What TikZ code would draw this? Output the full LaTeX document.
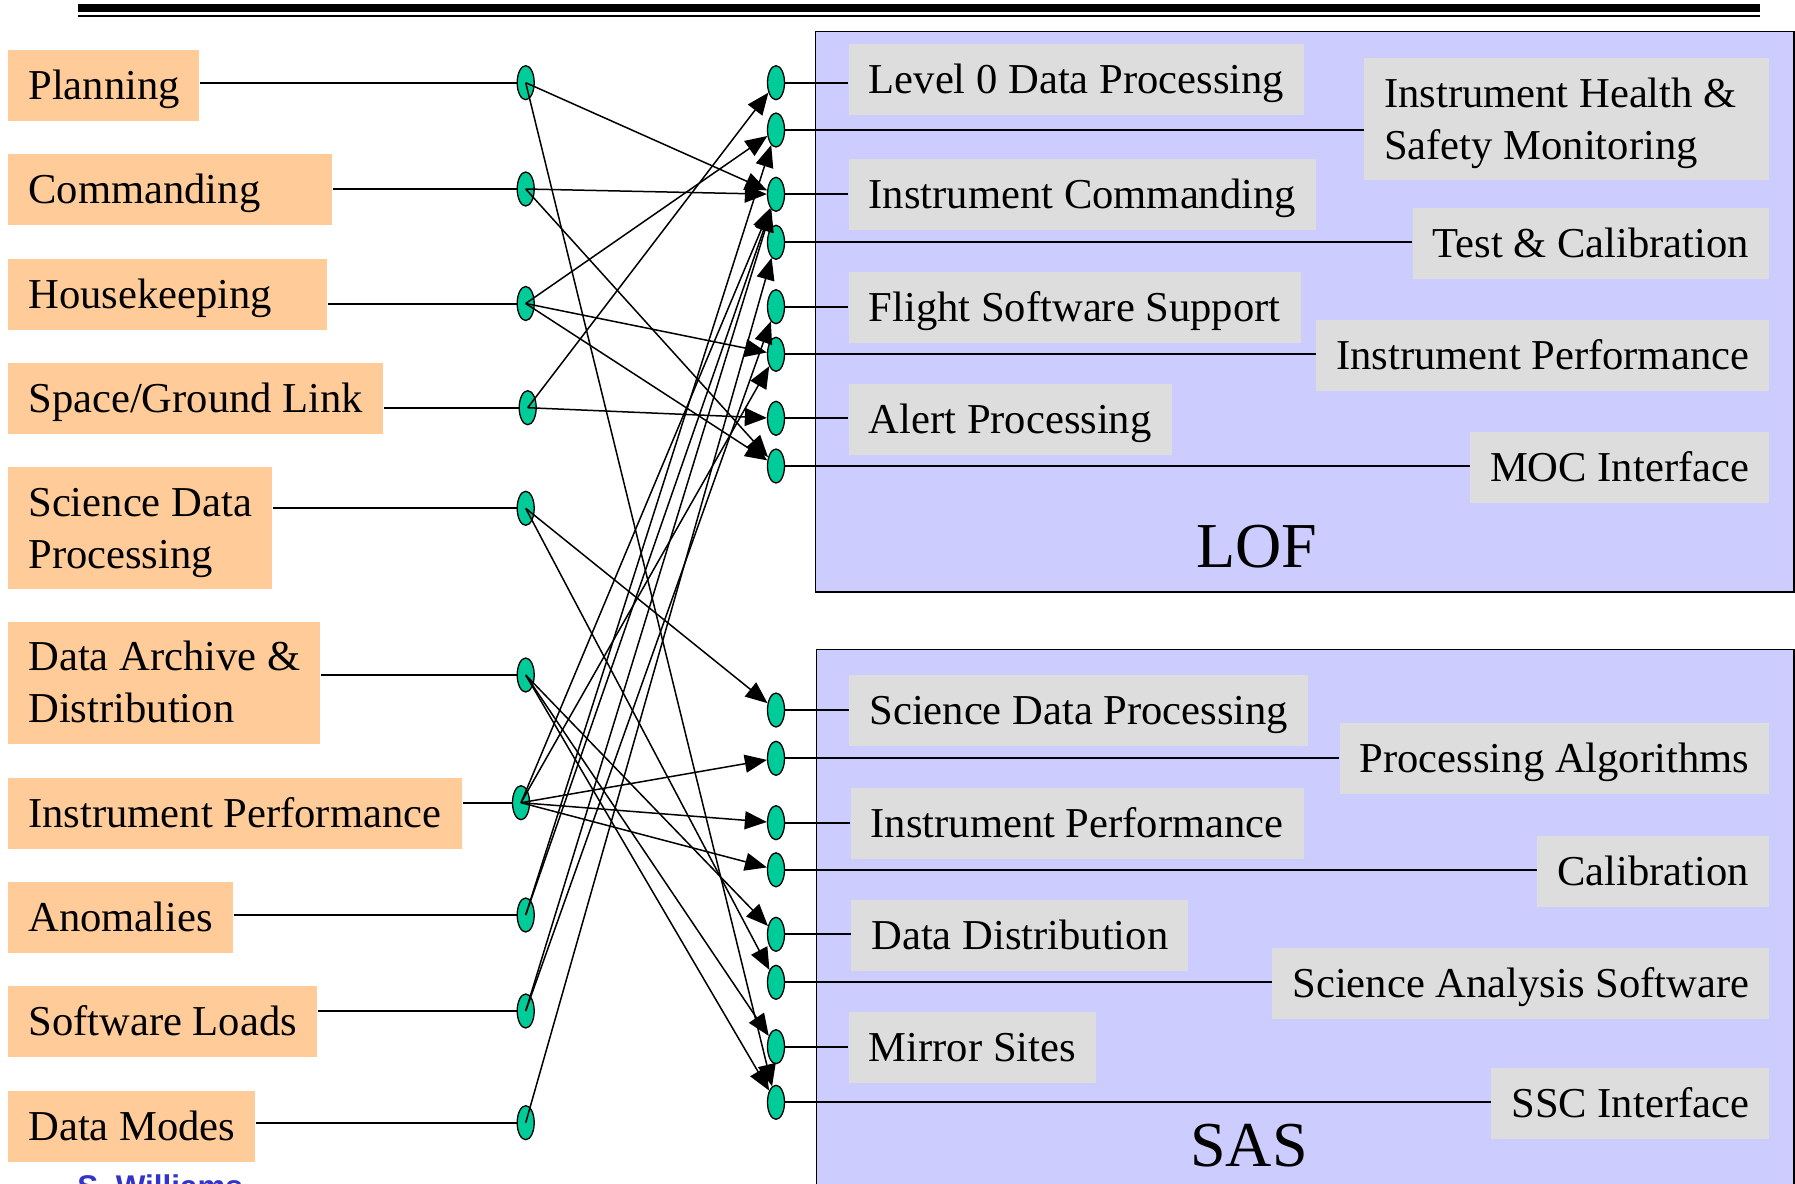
\documentclass[tikz,border=0pt]{standalone}
\usepackage{fontspec}
\setmainfont{Liberation Serif}
\newfontfamily\labelsans{Liberation Sans}
\usetikzlibrary{shapes.geometric,arrows.meta}

\definecolor{boxorange}{HTML}{FFCC99}
\definecolor{unitblue}{HTML}{CCCCFF}
\definecolor{funcgray}{HTML}{DDDDDD}
\definecolor{portgreen}{HTML}{00CC99}
\definecolor{authorblue}{HTML}{3333CC}

% keep the font's own word spacing inside fixed-width boxes
\newcommand{\natspace}{\spaceskip=0pt\xspaceskip=0pt\relax}

\begin{document}
\begin{tikzpicture}[x=0.5pt,y=-0.5pt,
  body/.style={font=\fontsize{21.3pt}{26pt}\selectfont, text height=19.2pt, text depth=5.25pt,
               inner xsep=10pt, inner ysep=0pt, minimum height=35.5pt},
  twoline/.style={text depth=31.2pt, minimum height=61pt},
  task/.style={body, fill=boxorange, anchor=west, align=flush left},
  func/.style={body, fill=funcgray},
  port/.style={ellipse, draw=black, line width=0.65pt, fill=portgreen,
               minimum width=8.5pt, minimum height=17pt, inner sep=0pt},
  link/.style={line width=1pt},
  flow/.style={line width=0.75pt, -{Triangle[length=11pt,width=9pt]}},
  unit/.style={draw=black, line width=0.9pt, fill=unitblue, anchor=north west, inner sep=0pt},
  unitname/.style={font=\fontsize{32pt}{38pt}\selectfont, anchor=base, inner sep=0pt}
]
\useasboundingbox (0,0) rectangle (1795,1184);
\clip (0,0) rectangle (1795,1184);
\fill[white] (0,0) rectangle (1795,1184);

% header rule
\draw[line width=3.6pt] (78,8) -- (1760,8);
\draw[line width=1pt] (78,15.5) -- (1760,15.5);

% the two facilities
\node[unit, minimum width=489.25pt, minimum height=280.25pt] (lof) at (814.5,30.5) {};
\node[unit, minimum width=488.75pt, minimum height=330pt] (sas) at (815.5,648.5) {};
\node[unitname] (lofname) at (1257,567) {LOF};
\node[unitname] (sasname) at (1249,1166) {SAS};

% LOF functions
\node[func, anchor=west] (fLevel) at (848.4,79.65) {Level 0 Data Processing};
\node[func, anchor=east, twoline, text width=182.5pt, align=flush left] (fHealth) at (1769.5,119)
     {\natspace\mbox{Instrument Health \&}\\\mbox{Safety Monitoring}};
\node[func, anchor=west] (fCmd) at (848.4,194.8) {Instrument Commanding};
\node[func, anchor=east] (fTest) at (1769.5,243.35) {Test \& Calibration};
\node[func, anchor=west] (fFsw) at (848.4,307.3) {Flight Software Support};
\node[func, anchor=east] (fPerf) at (1769.5,355.65) {Instrument Performance};
\node[func, anchor=west] (fAlert) at (848.4,419.75) {Alert Processing};
\node[func, anchor=east] (fMoc) at (1769.5,467.75) {MOC Interface};

% SAS functions
\node[func, anchor=west] (gProc) at (849,710.6) {Science Data Processing};
\node[func, anchor=east] (gAlg) at (1769.5,758.8) {Processing Algorithms};
\node[func, anchor=west] (gPerf) at (850.3,823.1) {Instrument Performance};
\node[func, anchor=east] (gCal) at (1769.5,871.3) {Calibration};
\node[func, anchor=west] (gDist) at (851,935.5) {Data Distribution};
\node[func, anchor=east] (gAna) at (1769.5,983.6) {Science Analysis Software};
\node[func, anchor=west] (gMirror) at (848.4,1047.9) {Mirror Sites};
\node[func, anchor=east] (gSsc) at (1769.5,1103.95) {SSC Interface};

% operational tasks
\node[task, text width=75.5pt] (bPlan) at (8,85.5) {\natspace\mbox{Planning}};
\node[task, text width=142pt] (bCmd) at (8,189.5) {\natspace\mbox{Commanding}};
\node[task, text width=139.5pt] (bHk) at (8,294.5) {\natspace\mbox{Housekeeping}};
\node[task, text width=167.5pt] (bLink) at (8,398.5) {\natspace\mbox{Space/Ground Link}};
\node[task, twoline, text width=112pt] (bSci) at (8,528) {\natspace\mbox{Science Data}\\\mbox{Processing}};
\node[task, twoline, text width=136pt] (bArch) at (8,682.6) {\natspace\mbox{Data Archive \&}\\\mbox{Distribution}};
\node[task, text width=207pt] (bPerf) at (8,813.5) {\natspace\mbox{Instrument Performance}};
\node[task, text width=92.5pt] (bAnom) at (8,917.5) {\natspace\mbox{Anomalies}};
\node[task, text width=134.5pt] (bLoad) at (8,1021.5) {\natspace\mbox{Software Loads}};
\node[task, text width=103.5pt] (bMode) at (8,1126.7) {\natspace\mbox{Data Modes}};

% ports of the tasks
\node[port] (pPlan) at (525.7,82.7) {};
\node[port] (pCmd)  at (525.7,189) {};
\node[port] (pHk)   at (525.7,303.5) {};
\node[port] (pLink) at (527.7,407.7) {};
\node[port] (pSci)  at (525.7,508.3) {};
\node[port] (pArch) at (525.7,675) {};
\node[port] (pPerf) at (521,802.7) {};
\node[port] (pAnom) at (525.7,915) {};
\node[port] (pLoad) at (525.7,1011) {};
\node[port] (pMode) at (525.7,1122.7) {};

% ports of the LOF functions
\node[port] (qLevel)  at (776,82.7) {};
\node[port] (qHealth) at (776,130) {};
\node[port] (qCmd)    at (776,194.3) {};
\node[port] (qTest)   at (776,242.3) {};
\node[port] (qFsw)    at (776,306.7) {};
\node[port] (qPerf)   at (776,354.3) {};
\node[port] (qAlert)  at (776,418.3) {};
\node[port] (qMoc)    at (776,466) {};

% ports of the SAS functions
\node[port] (rProc)   at (776,710) {};
\node[port] (rAlg)    at (776,758.3) {};
\node[port] (rPerf)   at (776,822.7) {};
\node[port] (rCal)    at (776,869.8) {};
\node[port] (rDist)   at (776,934.3) {};
\node[port] (rAna)    at (776,982.3) {};
\node[port] (rMirror) at (776,1046.7) {};
\node[port] (rSsc)    at (776,1102.3) {};

% task boxes to their ports
\foreach \p/\b in {pPlan/bPlan,pCmd/bCmd,pHk/bHk,pLink/bLink,pSci/bSci,
                   pArch/bArch,pPerf/bPerf,pAnom/bAnom,pLoad/bLoad,pMode/bMode}
  \draw[link] (\p) -- (\b.east |- \p.center);

% function ports to their boxes
\foreach \p/\b in {qLevel/fLevel,qHealth/fHealth,qCmd/fCmd,qTest/fTest,
                   qFsw/fFsw,qPerf/fPerf,qAlert/fAlert,qMoc/fMoc,
                   rProc/gProc,rAlg/gAlg,rPerf/gPerf,rCal/gCal,
                   rDist/gDist,rAna/gAna,rMirror/gMirror,rSsc/gSsc}
  \draw[link] (\p) -- (\b.west |- \p.center);

% data flows
\foreach \s/\t in {pPlan/qCmd,pPlan/rSsc,
                   pCmd/qCmd,pCmd/qMoc,
                   pHk/qHealth,pHk/qPerf,pHk/qMoc,
                   pLink/qLevel,pLink/qAlert,
                   pSci/rProc,pSci/rAna,
                   pArch/rDist,pArch/rMirror,pArch/rSsc,
                   pPerf/qCmd,pPerf/qPerf,pPerf/rAlg,pPerf/rPerf,pPerf/rCal,
                   pAnom/qHealth,pAnom/qCmd,
                   pLoad/qCmd,pLoad/qFsw,
                   pMode/qTest}
  \draw[flow] (\s.center) -- (\t);

% author credit
\node[anchor=base west, inner sep=0pt, text=authorblue,
      font={\labelsans\bfseries\fontsize{15.7pt}{18pt}\selectfont}] (author) at (77,1197) {S. Williams};
\end{tikzpicture}
\end{document}
